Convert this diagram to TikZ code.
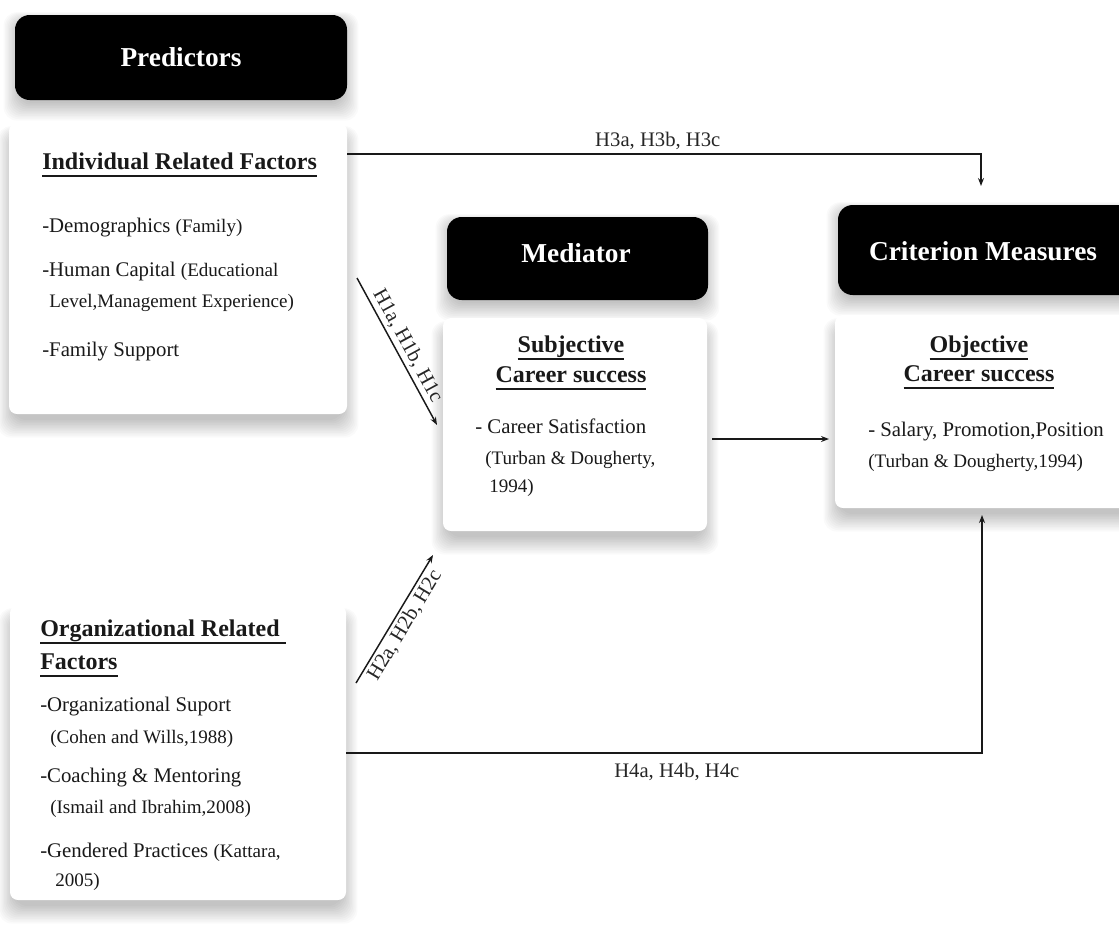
\documentclass[tikz,border=0pt]{standalone}
\usepackage{fontspec}
\setmainfont{Liberation Serif}
\usetikzlibrary{arrows.meta}
\newcommand\bodyf{\fontsize{15.6}{18}\selectfont}
\newcommand\parf{\fontsize{14.3}{17}\selectfont}
\newcommand\headf{\fontsize{18}{21}\selectfont\bfseries}
\newcommand\titlef{\fontsize{20.5}{24}\selectfont\bfseries}
\newcommand\lblf{\fontsize{15.5}{18}\selectfont}
\newcommand\ulx[1]{\setbox0\hbox{#1}\dimen0=\wd0\rlap{\box0}\rule[-5.5pt]{\dimen0}{1.3pt}}
% soft shadow: x1 y1 x2 y2 (pixels), drop
\newcommand\softshd[5]{%
  \foreach \k in {0,...,11}{%
    \fill[black, opacity=0.018, rounded corners=10pt]
      ({#1+4-\k*1.4},{#2+#5-\k*0.8}) rectangle ({#3-4+\k*1.4},{#4+#5*0.5+\k*1.6});}}
\begin{document}
\begin{tikzpicture}[x=0.75pt,y=-0.75pt,
  blackbox/.style={fill=black, rounded corners=11pt, inner sep=0pt},
  whitebox/.style={fill=white, rounded corners=6pt, inner sep=0pt},
  ttl/.style={text=white, font=\titlef, inner sep=0pt},
  txt/.style={anchor=west, inner sep=0pt, text=black!90},
  hd/.style={inner sep=0pt, font=\headf, text=black!90},
  arr/.style={draw=black!90, line width=1.1pt, -{Stealth[length=6pt,width=4.5pt]}},
  lbl/.style={font=\lblf, text=black!85, inner sep=3pt}]
\path[use as bounding box, clip] (0,0) rectangle (1119,939);
\fill[white] (0,0) rectangle (1119,939);
% shadows
\softshd{15}{15}{347}{100}{6}
\softshd{9}{123}{347}{414}{12}
\softshd{447}{217}{708}{300}{6}
\softshd{443}{318}{707}{531}{12}
\softshd{838}{205}{1140}{295}{6}
\softshd{835}{315}{1140}{508}{12}
\softshd{10}{605}{346}{900}{12}
% boxes
\node[blackbox, minimum width=249pt, minimum height=63.75pt] (pred) at (181,57.5) {};
\node[ttl] (predt) at (181,57) {Predictors};
\node[whitebox, minimum width=253.5pt, minimum height=218.25pt] (ind) at (178,268.5) {};
\node[blackbox, minimum width=195.75pt, minimum height=62.25pt] (med) at (577.5,258.5) {};
\node[ttl] (medt) at (576,253) {Mediator};
\node[whitebox, minimum width=198pt, minimum height=159.75pt] (subj) at (575,424.5) {};
\node[blackbox, minimum width=226.5pt, minimum height=67.5pt] (crit) at (989,250) {};
\node[ttl] (critt) at (983,251) {Criterion Measures};
\node[whitebox, minimum width=228.75pt, minimum height=144.75pt] (obj) at (987.5,411.5) {};
\node[whitebox, minimum width=252pt, minimum height=221.25pt] (org) at (178,752.5) {};
% individual texts
\node[txt, font=\headf] (i0) at (42,165) {\ulx{Individual Related Factors}};
\node[txt, font=\bodyf] (i1) at (42,228) {-Demographics {\parf(Family)}};
\node[txt, font=\bodyf] (i2) at (42,271) {-Human Capital {\parf(Educational}};
\node[txt, font=\parf] (i3) at (49,303) {Level,Management Experience)};
\node[txt, font=\bodyf] (i4) at (42,352) {-Family Support};
% subjective texts
\node[hd] (s0) at (571,348) {\ulx{Subjective}};
\node[hd] (s1) at (571,378) {\ulx{Career success}};
\node[txt, font=\bodyf] (s2) at (475,426) {- Career Satisfaction};
\node[txt, font=\parf] (s3) at (485,460) {(Turban \& Dougherty,};
\node[txt, font=\parf] (s4) at (489,488) {1994)};
% objective texts
\node[hd] (o0) at (979,348) {\ulx{Objective}};
\node[hd] (o1) at (979,377) {\ulx{Career success}};
\node[txt, font=\bodyf] (o2) at (868,432) {- Salary, Promotion,Position};
\node[txt, font=\parf] (o3) at (868,463) {(Turban \& Dougherty,1994)};
% organizational texts
\node[txt, font=\headf] (g0) at (40,632) {\ulx{Organizational Related\ }};
\node[txt, font=\headf] (g1) at (40,665) {\ulx{Factors}};
\node[txt, font=\bodyf] (g2) at (40,707) {-Organizational Suport};
\node[txt, font=\parf] (g3) at (50,739) {(Cohen and Wills,1988)};
\node[txt, font=\bodyf] (g4) at (40,778) {-Coaching \& Mentoring};
\node[txt, font=\parf] (g5) at (50,809) {(Ismail and Ibrahim,2008)};
\node[txt, font=\bodyf] (g6) at (40,852) {-Gendered Practices {\parf(Kattara,}};
\node[txt, font=\parf] (g7) at (55,882) {2005)};
% connectors
\coordinate (h3c) at (981,154);
\coordinate (h3t) at (981,186);
\draw[arr] (ind.east |- h3c) -- node[lbl, above, pos=0.49] (h3l) {H3a, H3b, H3c} (h3c) -- (h3t);
\coordinate (h1s) at (357,278);
\coordinate (h1e) at (437,425);
\draw[arr] (h1s) -- node[lbl, sloped, above, inner sep=2pt] (h1l) {H1a, H1b, H1c} (h1e);
\coordinate (h2s) at (356,683);
\coordinate (h2e) at (433,555);
\draw[arr] (h2s) -- node[lbl, sloped, below, inner sep=2pt] (h2l) {H2a, H2b, H2c} (h2e);
\coordinate (m1) at (712,439);
\coordinate (m2) at (829,439);
\draw[arr] (m1) -- (m2);
\coordinate (h4c) at (982,753);
\coordinate (h4t) at (982,515);
\draw[arr] (org.east |- h4c) -- node[lbl, below, pos=0.52, inner sep=7pt] (h4l) {H4a, H4b, H4c} (h4c) -- (h4t);
\end{tikzpicture}
\end{document}
